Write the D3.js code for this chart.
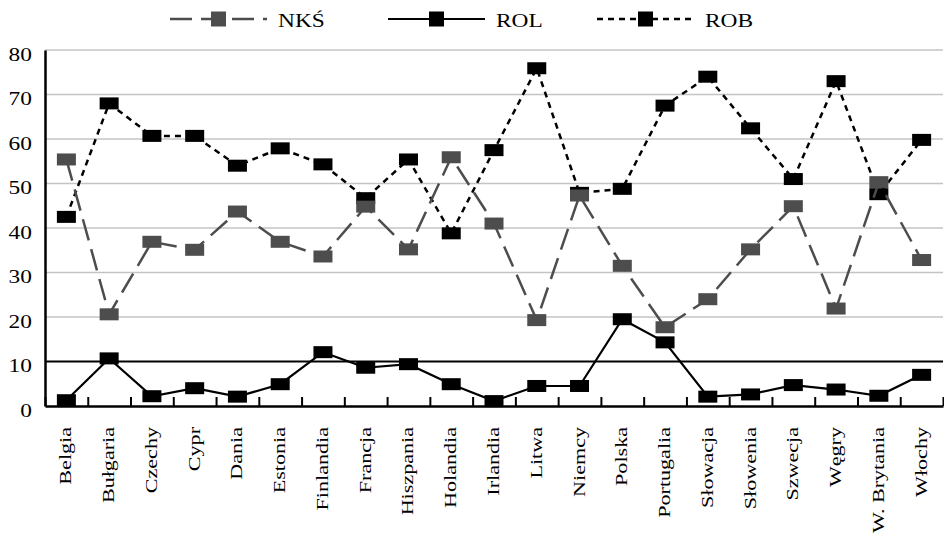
<!DOCTYPE html>
<html>
<head>
<meta charset="utf-8">
<script src="https://cdn.jsdelivr.net/npm/d3@7"></script>
<style>
  body { margin: 0; background: #fff; }
  text { font-family: "Liberation Serif", "Times New Roman", serif; fill: #000; }
</style>
</head>
<body>
<div id="chart"></div>
<script>
const categories = ['Belgia', 'Bułgaria', 'Czechy', 'Cypr', 'Dania', 'Estonia', 'Finlandia',
  'Francja', 'Hiszpania', 'Holandia', 'Irlandia', 'Litwa', 'Niemcy', 'Polska', 'Portugalia',
  'Słowacja', 'Słowenia', 'Szwecja', 'Węgry', 'W. Brytania', 'Włochy'];
const nks = [55.4, 20.6, 36.9, 35.1, 43.7, 36.9, 33.6, 44.8, 35.2, 55.9, 41.0,
  19.3, 47.3, 31.5, 17.7, 24.0, 35.2, 44.9, 21.9, 50.3, 32.8];
const rol = [1.3, 10.7, 2.2, 4.0, 2.1, 4.9, 12.1, 8.6, 9.4, 4.9, 1.1,
  4.5, 4.5, 19.5, 14.3, 2.1, 2.6, 4.7, 3.7, 2.3, 7.0];
const rob = [42.5, 68.0, 60.7, 60.7, 54.0, 57.9, 54.3, 46.7, 55.4, 38.8, 57.5,
  75.9, 47.9, 48.8, 67.5, 74.0, 62.4, 51.0, 73.0, 47.6, 59.8];
const yTicks = [0, 10, 20, 30, 40, 50, 60, 70, 80];
const refLine = 10;

const width = 944, height = 534;
const margin = {top: 50, bottom: 128, left: 45, right: 1};

const svg = d3.select('#chart').append('svg')
    .attr('width', width)
    .attr('height', height);

const x = d3.scaleBand()
    .domain(categories)
    .range([margin.left, width - margin.right]);
const xEdge = d3.scaleLinear()
    .domain([0, categories.length])
    .range([margin.left, width - margin.right]);
const y = d3.scaleLinear()
    .domain([0, 80])
    .range([height - margin.bottom, margin.top]);

// gridlines (the 10 line is drawn black)
svg.append('g')
    .selectAll('line')
    .data(yTicks.filter(d => d > 0))
    .join('line')
    .attr('x1', margin.left)
    .attr('x2', width - margin.right)
    .attr('y1', d => y(d))
    .attr('y2', d => y(d))
    .attr('stroke', d => d === refLine ? '#000' : '#c4c4c4')
    .attr('stroke-width', d => d === refLine ? 2 : 1.5);

// y axis
const yAxis = svg.append('g')
    .attr('transform', `translate(${margin.left},0)`)
    .call(d3.axisLeft(y).tickValues(yTicks).tickSize(0).tickFormat(d3.format('d')));
yAxis.select('.domain').attr('stroke', '#000').attr('stroke-width', 2.5);
yAxis.selectAll('text')
    .attr('x', null)
    .attr('dy', null)
    .attr('font-size', 18)
    .attr('font-family', '"Liberation Serif", serif')
    .attr('text-anchor', 'end')
    .attr('transform', 'translate(-13,10) scale(1.3,1)');

// x axis: ticks at band edges
const xTicks = svg.append('g')
    .attr('transform', `translate(0,${y(0)})`)
    .call(d3.axisBottom(xEdge).tickValues(d3.range(0, categories.length + 1)).tickSize(-9).tickSizeOuter(0).tickFormat(''));
xTicks.select('.domain').attr('stroke', '#000').attr('stroke-width', 2.5);
xTicks.selectAll('.tick line').attr('stroke', '#000').attr('stroke-width', 2);

// x labels
const xLabels = svg.append('g')
    .attr('transform', `translate(0,${y(0)})`)
    .call(d3.axisBottom(x).tickSize(0));
xLabels.select('.domain').remove();
xLabels.selectAll('text')
    .attr('y', null)
    .attr('dy', null)
    .attr('font-size', 17)
    .attr('font-family', '"Liberation Serif", serif')
    .attr('text-anchor', 'end')
    .attr('transform', 'translate(5,21) rotate(-90) scale(1.3,1)');

const series = [
  {name: 'ROB', values: rob, color: '#000', dash: '6,5', width: 2.5, legendX: 597},
  {name: 'ROL', values: rol, color: '#000', dash: null, width: 2.2, legendX: 388},
  {name: 'NKŚ', values: nks, color: '#4d4d4d', dash: '22,9', width: 2.5, legendX: 170},
];

const line = d3.line()
    .x((d, i) => x(categories[i]) + x.bandwidth() / 2)
    .y(d => y(d));

const plot = svg.append('g');
series.forEach(s => {
  plot.append('path')
      .attr('fill', 'none')
      .attr('stroke', s.color)
      .attr('stroke-width', s.width)
      .attr('stroke-dasharray', s.dash)
      .attr('d', line(s.values));
  plot.append('g')
      .selectAll('rect')
      .data(s.values)
      .join('rect')
      .attr('x', (d, i) => x(categories[i]) + x.bandwidth() / 2 - 9.5)
      .attr('y', d => y(d) - 6)
      .attr('width', 19)
      .attr('height', 12)
      .attr('fill', s.color);
});

// legend
const legend = svg.append('g');
series.forEach(s => {
  const g = legend.append('g').attr('transform', `translate(${s.legendX},19)`);
  g.append('line')
      .attr('x1', 0).attr('x2', 97)
      .attr('stroke', s.color)
      .attr('stroke-width', s.width)
      .attr('stroke-dasharray', s.dash);
  g.append('rect')
      .attr('x', 41).attr('y', -7.5)
      .attr('width', 15).attr('height', 15)
      .attr('fill', s.color);
  g.append('text')
      .attr('font-size', 18)
      .attr('transform', 'translate(108,8) scale(1.3,1)')
      .text(s.name);
});
</script>
</body>
</html>
